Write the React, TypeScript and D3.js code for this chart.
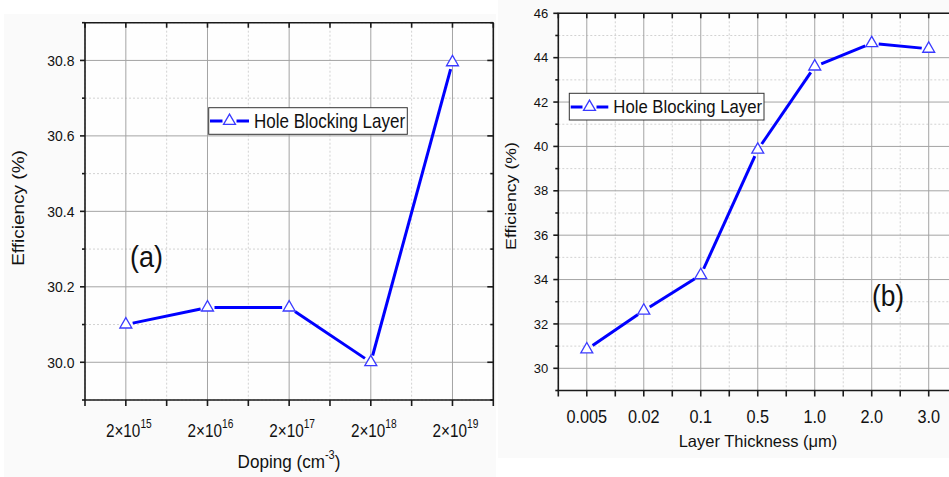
import * as d3 from "d3";
import type { ReactNode } from "react";

// (a) efficiency vs doping of the hole blocking layer
const dopingExponents = ["15", "16", "17", "18", "19"];
const dopingEfficiency = [30.1, 30.145, 30.145, 30.0, 30.795];
const dopingYTicks = [30.0, 30.2, 30.4, 30.6, 30.8];
const dopingYMinor = [29.9, 30.1, 30.3, 30.5, 30.7, 30.9];

// (b) efficiency vs layer thickness
const thicknessLabels = ["0.005", "0.02", "0.1", "0.5", "1.0", "2.0", "3.0"];
const thicknessEfficiency = [30.85, 32.6, 34.2, 39.85, 43.6, 44.65, 44.4];
const thicknessYTicks = [30, 32, 34, 36, 38, 40, 42, 44, 46];
const thicknessYMinor = [29, 31, 33, 35, 37, 39, 41, 43, 45];

const seriesName = "Hole Blocking Layer";

const FONT = "'Liberation Sans', Arial, sans-serif";
const LINE = "#0000ff";
const MARK = "#3a3aff";
const TRI = d3.symbol(d3.symbolTriangle, 62)() || "";

type Frame = { left: number; right: number; top: number; bottom: number };
type Scales = { x: d3.ScaleLinear<number, number>; y: d3.ScaleLinear<number, number> };

// the source picture is squeezed sideways, so text gets a horizontal scale
const tf = (x: number, y: number, sx: number, rot = 0) =>
  `translate(${x},${y}) scale(${sx},1)${rot ? ` rotate(${rot})` : ""}`;

function Panel({
  f, values, yDomain, yMajor, yMinor, children,
}: {
  f: Frame; values: number[]; yDomain: [number, number];
  yMajor: number[]; yMinor: number[]; children: (s: Scales) => ReactNode;
}) {
  const n = values.length;
  const x = d3.scaleLinear().domain([-0.5, n - 0.5]).range([f.left, f.right]);
  const y = d3.scaleLinear().domain(yDomain).range([f.bottom, f.top]);
  const idx = d3.range(n);
  const half = d3.range(n + 1).map((i) => i - 0.5);

  // Origin-style line with a gap around each symbol
  const pts = values.map((v, i) => [x(i), y(v)] as [number, number]);
  const gap = 7;
  const line = d3.line();
  const segs = pts.slice(1).map((p1, i) => {
    const p0 = pts[i];
    const dx = p1[0] - p0[0], dy = p1[1] - p0[1];
    const L = Math.hypot(dx, dy);
    const ux = dx / L, uy = dy / L;
    return line([[p0[0] + ux * gap, p0[1] + uy * gap], [p1[0] - ux * gap, p1[1] - uy * gap]]);
  });

  return (
    <g>
      <rect x={f.left} y={f.top} width={f.right - f.left} height={f.bottom - f.top} fill="#fefefe" />
      {/* minor grid */}
      {half.map((i) => (
        <line key={"vm" + i} x1={x(i)} x2={x(i)} y1={f.top} y2={f.bottom} stroke="#d2d2d2" strokeDasharray="2,2" />
      ))}
      {yMinor.map((v) => (
        <line key={"hm" + v} x1={f.left} x2={f.right} y1={y(v)} y2={y(v)} stroke="#d2d2d2" strokeDasharray="2,2" />
      ))}
      {/* major grid */}
      {idx.map((i) => (
        <line key={"vM" + i} x1={x(i)} x2={x(i)} y1={f.top} y2={f.bottom} stroke="#a4a4a4" />
      ))}
      {yMajor.map((v) => (
        <line key={"hM" + v} x1={f.left} x2={f.right} y1={y(v)} y2={y(v)} stroke="#a4a4a4" />
      ))}

      {/* frame */}
      <g stroke="#1a1a1a" strokeWidth={1.6} fill="none">
        <line x1={f.left} x2={f.left} y1={f.top} y2={f.bottom} />
        <line x1={f.right} x2={f.right} y1={f.top} y2={f.bottom} />
        <line x1={f.left - 0.8} x2={f.right} y1={f.top} y2={f.top} />
        <line x1={f.left - 0.8} x2={f.right} y1={f.bottom} y2={f.bottom} />
        {yMajor.map((v) => (
          <g key={"ty" + v}>
            <line x1={f.left - 5} x2={f.left} y1={y(v)} y2={y(v)} />
            <line x1={f.right - 6} x2={f.right} y1={y(v)} y2={y(v)} />
          </g>
        ))}
        {yMinor.map((v) => (
          <g key={"tym" + v}>
            <line x1={f.left - 3} x2={f.left} y1={y(v)} y2={y(v)} />
            <line x1={f.right - 3} x2={f.right} y1={y(v)} y2={y(v)} />
          </g>
        ))}
        {[...idx, ...half].map((i) => (
          <g key={"tx" + i}>
            <line x1={x(i)} x2={x(i)} y1={f.top} y2={f.top + 5} />
            <line x1={x(i)} x2={x(i)} y1={f.bottom} y2={f.bottom + 6} />
          </g>
        ))}
      </g>

      {/* series */}
      {segs.map((d, i) => (
        <path key={"s" + i} d={d || ""} stroke={LINE} strokeWidth={3} fill="none" />
      ))}
      {pts.map((p, i) => (
        <path key={"p" + i} d={TRI} transform={`translate(${p[0]},${p[1]})`} fill="#fff" stroke={MARK} strokeWidth={1.3} />
      ))}

      {children({ x, y })}
    </g>
  );
}

function Legend({ box, lineX, lineY, textX, textY, size, sx }: {
  box: [number, number, number, number]; lineX: [number, number]; lineY: number;
  textX: number; textY: number; size: number; sx: number;
}) {
  const mid = (lineX[0] + lineX[1]) / 2;
  return (
    <g>
      <rect x={box[0]} y={box[1]} width={box[2] - box[0]} height={box[3] - box[1]} fill="#fff" stroke="#333" strokeWidth={1} />
      <line x1={lineX[0]} x2={mid - 7} y1={lineY} y2={lineY} stroke={LINE} strokeWidth={3} />
      <line x1={mid + 7} x2={lineX[1]} y1={lineY} y2={lineY} stroke={LINE} strokeWidth={3} />
      <path d={TRI} transform={`translate(${mid},${lineY})`} fill="#fff" stroke={MARK} strokeWidth={1.3} />
      <text transform={tf(textX, textY, sx)} fontSize={size} fill="#111">{seriesName}</text>
    </g>
  );
}

export default function App() {
  const fa: Frame = { left: 85, right: 493.3, top: 22.7, bottom: 400 };
  const fb: Frame = { left: 558.3, right: 957.2, top: 13.3, bottom: 390.5 };
  return (
    <svg width={949} height={477} style={{ position: "absolute", left: 0, top: 0, background: "#fff" }} fontFamily={FONT}>
      <rect x={4} y={14} width={492} height={463} fill="#fafafa" />
      <rect x={498} y={0} width={451} height={458} fill="#fafafa" />

      <Panel f={fa} values={dopingEfficiency} yDomain={[29.9, 30.9]} yMajor={dopingYTicks} yMinor={dopingYMinor}>
        {({ x, y }) => (
          <g fill="#111">
            {dopingYTicks.map((v) => (
              <text key={v} transform={tf(74.5, y(v) + 5.5, 0.9)} textAnchor="end" fontSize={15.5}>{v.toFixed(1)}</text>
            ))}
            {dopingExponents.map((e, i) => (
              <text key={e} transform={tf(x(i) + 3, 437, 0.85)} textAnchor="middle" fontSize={18}>
                2×10<tspan dy={-9} fontSize={12}>{e}</tspan>
              </text>
            ))}
            <text transform={tf(289, 468, 0.92)} textAnchor="middle" fontSize={18.6}>
              Doping (cm<tspan dy={-9} fontSize={12}>-3</tspan><tspan dy={9}>)</tspan>
            </text>
            <text transform={tf(23.5, 208, 0.82, -90)} textAnchor="middle" fontSize={19}>Efficiency (%)</text>
            <text transform={tf(146.5, 266.7, 0.9)} textAnchor="middle" fontSize={30}>(a)</text>
            <Legend box={[208.7, 107.7, 407.3, 134.3]} lineX={[210, 249]} lineY={121} textX={254} textY={127.7} size={20} sx={0.85} />
          </g>
        )}
      </Panel>

      <Panel f={fb} values={thicknessEfficiency} yDomain={[29, 46]} yMajor={thicknessYTicks} yMinor={thicknessYMinor}>
        {({ x, y }) => (
          <g fill="#111">
            {thicknessYTicks.map((v) => (
              <text key={v} transform={tf(548.3, y(v) + 4.6, 1)} textAnchor="end" fontSize={13}>{v}</text>
            ))}
            {thicknessLabels.map((l, i) => (
              <text key={l} transform={tf(x(i), 423, 0.88)} textAnchor="middle" fontSize={18.5}>{l}</text>
            ))}
            <text transform={tf(758, 447, 1)} textAnchor="middle" fontSize={16.5}>Layer Thickness (μm)</text>
            <text transform={tf(516, 196, 0.82, -90)} textAnchor="middle" fontSize={17.7}>Efficiency (%)</text>
            <text transform={tf(888, 305.6, 0.91)} textAnchor="middle" fontSize={29}>(b)</text>
            <Legend box={[569.3, 93.3, 764, 120]} lineX={[570.7, 608.3]} lineY={107} textX={613.3} textY={113.3} size={18.6} sx={0.9} />
          </g>
        )}
      </Panel>
    </svg>
  );
}
